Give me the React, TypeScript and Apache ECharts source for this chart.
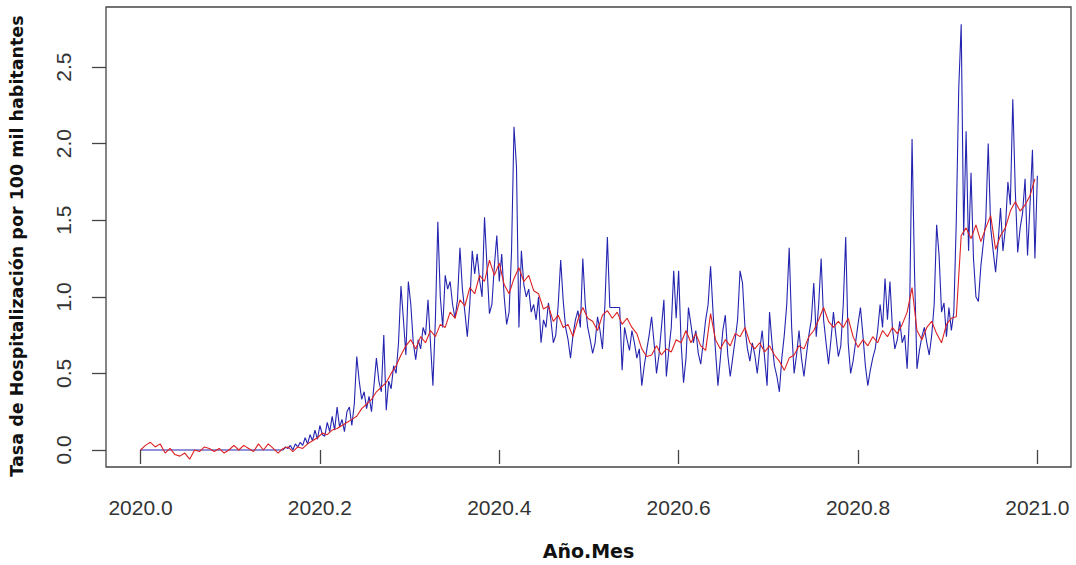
import React, { useEffect, useRef } from "react";
import * as echarts from "echarts";

// Daily hospitalisation rate (blue), days 0..365 of 2020
const blueValues: number[] = [
  // days 0-57 (flat at zero)
  0,0,0,0,0,0,0,0,0,0, 0,0,0,0,0,0,0,0,0,0,
  0,0,0,0,0,0,0,0,0,0, 0,0,0,0,0,0,0,0,0,0,
  0,0,0,0,0,0,0,0,0,0, 0,0,0,0,0,0,0,0,
  // 58-99
  0.00,0.02,0.01,0.03,0.00,0.04,0.02,0.05,0.03,0.08,
  0.04,0.10,0.06,0.13,0.07,0.16,0.10,0.09,0.18,0.12,
  0.22,0.13,0.28,0.15,0.20,0.12,0.25,0.28,0.16,0.30,
  0.61,0.45,0.33,0.38,0.27,0.35,0.25,0.42,0.60,0.45,
  0.38,0.75,
  // 100-149
  0.26,0.45,0.40,0.55,0.50,0.70,1.07,0.85,0.62,1.10,
  0.95,0.70,0.59,0.72,0.66,0.80,0.75,0.98,0.70,0.42,
  0.85,1.49,1.00,0.80,1.14,1.05,1.10,0.95,0.86,0.98,
  1.32,1.05,0.90,0.74,0.95,1.30,1.15,1.28,1.11,1.00,
  1.52,1.20,0.89,0.95,1.20,1.40,1.10,1.28,1.00,0.82,
  // 150-199
  0.90,1.30,2.11,1.85,0.80,1.30,1.08,1.00,1.05,0.90,
  0.95,0.85,1.00,0.70,0.85,0.80,0.96,0.85,0.70,0.75,
  0.95,1.24,0.98,0.80,0.72,0.60,0.75,0.85,0.91,0.80,
  1.25,0.95,0.80,0.72,0.63,0.70,0.87,0.78,0.66,0.95,
  1.39,0.93,0.93,0.93,0.93,0.93,0.52,0.80,0.72,0.65,
  // 200-249
  0.78,0.70,0.60,0.66,0.42,0.55,0.65,0.75,0.87,0.70,
  0.50,0.62,0.80,0.98,0.48,0.65,0.80,1.17,0.86,1.17,
  0.70,0.44,0.60,0.93,0.82,0.70,0.78,0.63,0.56,0.70,
  0.85,0.95,1.20,0.90,0.65,0.42,0.60,0.78,0.88,0.62,
  0.48,0.60,0.72,0.85,1.17,1.09,0.80,0.66,0.58,0.70,
  // 250-299
  0.62,0.50,0.65,0.78,0.60,0.42,0.90,0.70,0.55,0.48,
  0.38,0.60,0.75,0.95,1.32,0.80,0.50,0.62,0.78,0.60,
  0.48,0.62,0.75,0.85,1.09,0.74,0.95,1.25,0.85,0.70,
  0.56,0.72,0.90,0.75,0.61,0.68,0.95,1.39,0.70,0.50,
  0.58,0.70,0.82,0.93,0.75,0.55,0.42,0.52,0.60,0.66,
  // 300-349
  0.78,0.95,0.80,1.12,0.85,1.10,0.80,0.66,0.72,0.84,
  0.70,0.75,0.53,0.90,2.03,1.16,0.53,0.65,0.74,0.80,
  0.70,0.62,0.75,0.95,1.47,1.27,0.90,0.96,0.74,0.93,
  0.78,0.90,1.49,2.36,2.78,1.40,2.08,1.30,1.81,1.25,
  1.00,0.97,1.20,1.35,1.50,2.00,1.45,1.30,1.16,1.35,
  // 350-365
  1.58,1.30,1.45,1.75,1.60,2.29,1.70,1.29,1.45,1.55,
  1.77,1.27,1.60,1.96,1.25,1.79,
];

// Smoothed / estimated rate (red), every second day
const redValues: number[] = [
  0.00,0.03,0.05,0.02,0.04,-0.02,0.01,-0.03,-0.04,-0.02,
  -0.06,0.00,-0.01,0.02,0.01,-0.01,0.01,-0.02,0.00,0.03,
  0.00,0.03,0.01,-0.01,0.04,0.00,0.04,0.01,-0.02,0.01,
  0.02,-0.01,0.02,0.01,0.04,0.06,0.08,0.11,0.10,0.13,
  0.14,0.16,0.18,0.20,0.22,0.27,0.30,0.33,0.38,0.41,
  0.44,0.50,0.55,0.62,0.68,0.72,0.66,0.74,0.70,0.78,
  0.74,0.82,0.80,0.90,0.86,0.98,0.94,1.06,1.02,1.14,
  1.10,1.24,1.14,1.22,1.08,1.02,1.12,1.19,1.10,1.14,
  1.04,1.02,0.92,0.94,0.84,0.88,0.80,0.82,0.74,0.85,
  0.93,0.86,0.84,0.78,0.88,0.91,0.86,0.90,0.82,0.86,
  0.80,0.76,0.66,0.61,0.62,0.68,0.62,0.66,0.64,0.72,
  0.70,0.78,0.70,0.76,0.68,0.65,0.89,0.72,0.66,0.72,
  0.68,0.76,0.74,0.80,0.70,0.66,0.70,0.64,0.68,0.62,
  0.58,0.52,0.60,0.62,0.68,0.66,0.74,0.78,0.85,0.93,
  0.84,0.80,0.84,0.80,0.86,0.74,0.67,0.72,0.68,0.74,
  0.70,0.78,0.74,0.80,0.76,0.82,0.90,1.06,0.78,0.72,
  0.80,0.84,0.76,0.70,0.82,0.86,0.87,1.40,1.45,1.38,
  1.47,1.36,1.45,1.53,1.31,1.40,1.45,1.56,1.62,1.56,
  1.60,1.66,1.77,
];

const xTickValues: number[] = [2020.0, 2020.2, 2020.4, 2020.6, 2020.8, 2021.0];
const yTickValues: number[] = [0, 0.5, 1.0, 1.5, 2.0, 2.5];

const xAxisTitle = "Año.Mes";
const yAxisTitle = "Tasa de Hospitalización por 100 mil habitantes";

export default function App() {
  const ref = useRef<HTMLDivElement>(null);

  useEffect(() => {
    if (!ref.current) return;
    const chart = echarts.init(ref.current, null, { renderer: "svg" });
    const blueData = blueValues.map((v, i) => [2020 + i / 365, v]);
    const redData = redValues.map((v, k) => [2020 + (2 * k) / 365, v]);
    const labelFont = "'Liberation Sans', Arial, sans-serif";
    const titleFont = "'DejaVu Sans', 'Open Sans', sans-serif";

    chart.setOption({
      animation: false,
      backgroundColor: "#ffffff",
      grid: {
        left: 106,
        right: 5,
        top: 7,
        bottom: 98,
        show: true,
        borderColor: "#444444",
        borderWidth: 1.3,
        backgroundColor: "transparent",
      },
      xAxis: {
        type: "value",
        min: 2019.9615,
        max: 2021.0375,
        axisLine: { show: false },
        splitLine: { show: false },
        axisTick: {
          show: true,
          inside: false,
          length: 14,
          customValues: xTickValues,
          lineStyle: { color: "#444444", width: 1.3 },
        },
        axisLabel: {
          show: true,
          customValues: xTickValues,
          formatter: (v: number) => v.toFixed(1),
          margin: 30,
          fontSize: 21,
          color: "#333333",
          fontFamily: labelFont,
        },
        name: xAxisTitle,
        nameLocation: "middle",
        nameGap: 74,
        nameTextStyle: {
          fontSize: 19,
          fontWeight: "bold",
          color: "#111111",
          fontFamily: titleFont,
        },
      },
      yAxis: {
        type: "value",
        min: -0.111,
        max: 2.892,
        axisLine: { show: false },
        splitLine: { show: false },
        axisTick: {
          show: true,
          inside: false,
          length: 14,
          customValues: yTickValues,
          lineStyle: { color: "#444444", width: 1.3 },
        },
        axisLabel: {
          show: true,
          customValues: yTickValues,
          formatter: (v: number) => v.toFixed(1),
          rotate: 90,
          margin: 32,
          fontSize: 21,
          color: "#333333",
          fontFamily: labelFont,
        },
        name: yAxisTitle,
        nameLocation: "middle",
        nameGap: 80,
        nameTextStyle: {
          fontSize: 17.5,
          fontWeight: "bold",
          color: "#111111",
          fontFamily: titleFont,
          padding: [0, 18, 0, 0],
        },
      },
      series: [
        {
          name: "Observada",
          type: "line",
          data: blueData,
          showSymbol: false,
          symbol: "none",
          lineStyle: { color: "#2424b0", width: 1.1 },
          z: 2,
        },
        {
          name: "Suavizada",
          type: "line",
          data: redData,
          showSymbol: false,
          symbol: "none",
          lineStyle: { color: "#dd2222", width: 1.1 },
          z: 3,
        },
      ],
    });

    return () => chart.dispose();
  }, []);

  return (
    <div
      ref={ref}
      style={{ position: "absolute", left: 0, top: 0, width: 1076, height: 565 }}
    />
  );
}
